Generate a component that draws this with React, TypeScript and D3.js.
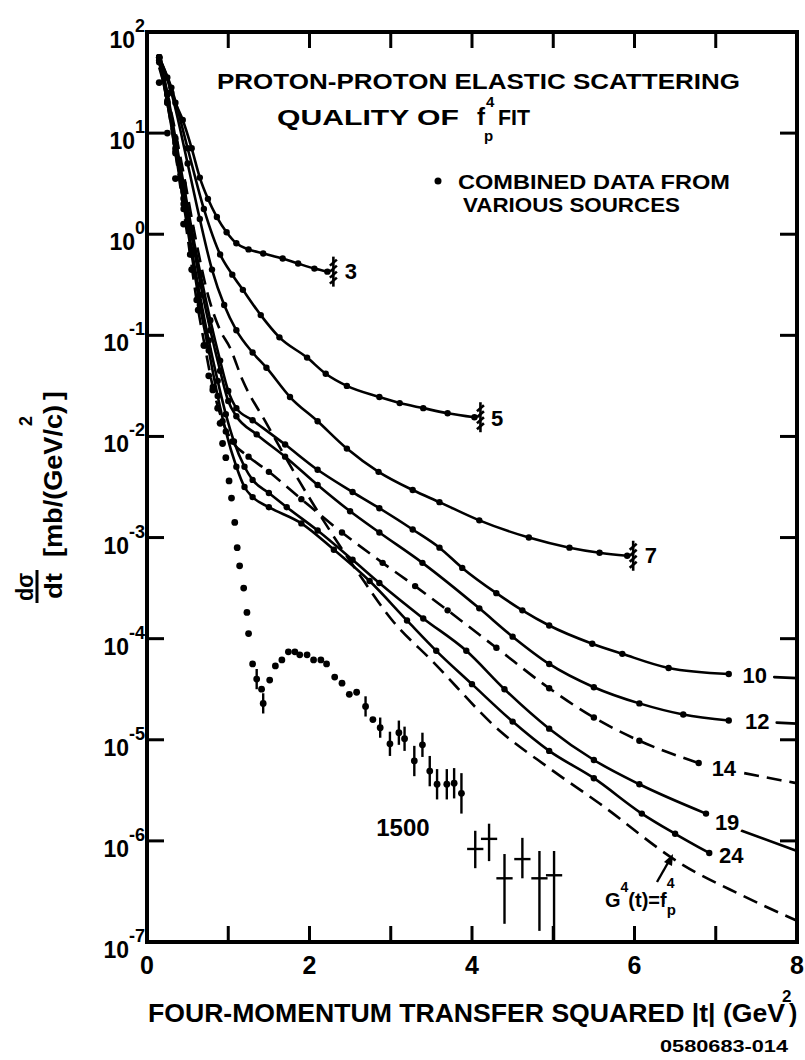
import React from 'react';
import * as d3 from 'd3';

const W = 805, H = 1060;

// ---- axes ----
const X_DOMAIN = [0, 8];
const Y_DOMAIN = [1e-7, 1e2];
const xTickLabels = [0, 2, 4, 6, 8];
const xInnerTicks = [1, 2, 3, 4, 5, 6, 7];
const yDecades = [2, 1, 0, -1, -2, -3, -4, -5, -6, -7];

// ---- curves: |t| (GeV^2) and log10(dσ/dt) ----
const c3_t = [0.15, 0.25, 0.35, 0.44, 0.55, 0.65, 0.75, 0.86, 0.98, 1.1, 1.25, 1.43, 1.67, 1.86, 2.06, 2.22];
const c3_lg = [1.75, 1.55, 1.3, 1.13, 0.85, 0.56, 0.35, 0.17, 0.02, -0.09, -0.15, -0.19, -0.24, -0.29, -0.34, -0.37];

const c5_t = [0.15, 0.3, 0.5, 0.7, 0.9, 1.05, 1.18, 1.4, 1.63, 1.97, 2.2, 2.46, 2.86, 3.11, 3.4, 3.7, 4.03];
const c5_lg = [1.75, 1.45, 0.85, 0.25, -0.2, -0.4, -0.55, -0.8, -1.02, -1.22, -1.38, -1.5, -1.61, -1.67, -1.72, -1.77, -1.81];

const c7_t = [0.15, 0.3, 0.5, 0.65, 0.8, 0.95, 1.1, 1.3, 1.47, 1.76, 2.1, 2.46, 2.85, 3.27, 3.6, 4.09, 4.7, 5.2, 5.57, 5.91];
const c7_lg = [1.75, 1.4, 0.7, 0.15, -0.35, -0.7, -0.95, -1.17, -1.32, -1.61, -1.85, -2.12, -2.35, -2.53, -2.65, -2.83, -3.0, -3.1, -3.15, -3.18];

const c10_t = [0.15, 0.25, 0.35, 0.45, 0.55, 0.66, 0.78, 0.9, 1.0, 1.1, 1.3, 1.7, 2.1, 2.53, 2.86, 3.27, 3.6, 3.88, 4.3, 4.62, 4.95, 5.48, 5.85, 6.42, 7.16];
const c10_lg = [1.75, 1.4, 0.95, 0.5, 0.05, -0.4, -0.85, -1.25, -1.55, -1.72, -1.84, -2.08, -2.33, -2.55, -2.71, -2.92, -3.1, -3.3, -3.55, -3.72, -3.87, -4.05, -4.15, -4.29, -4.35];
const c10_tailT = [7.72, 8];
const c10_tailLg = [-4.38, -4.39];

const c12_t = [0.15, 0.25, 0.35, 0.45, 0.55, 0.66, 0.78, 0.9, 1.0, 1.1, 1.35, 1.7, 2.1, 2.5, 2.86, 3.39, 4.09, 4.5, 4.95, 5.5, 6.06, 6.6, 7.16];
const c12_lg = [1.75, 1.38, 0.9, 0.42, -0.02, -0.5, -0.95, -1.35, -1.65, -1.8, -1.98, -2.2, -2.48, -2.74, -2.95, -3.25, -3.7, -3.98, -4.25, -4.48, -4.64, -4.75, -4.81];
const c12_tailT = [7.75, 8];
const c12_tailLg = [-4.83, -4.84];

const c14_t = [0.15, 0.25, 0.35, 0.45, 0.53, 0.61, 0.71, 0.81, 0.93, 1.05, 1.25, 1.5, 1.9, 2.4, 2.9, 3.3, 3.7, 4.3, 4.95, 5.5, 6.06, 6.79];
const c14_lg = [1.72, 1.3, 0.8, 0.25, -0.2, -0.65, -1.1, -1.51, -1.85, -2.05, -2.2, -2.35, -2.62, -2.95, -3.25, -3.48, -3.72, -4.09, -4.49, -4.78, -5.01, -5.23];
const c14_tailT = [7.35, 7.8, 8];
const c14_tailLg = [-5.33, -5.4, -5.43];

const c19_t = [0.15, 0.25, 0.35, 0.45, 0.55, 0.65, 0.76, 0.87, 0.97, 1.07, 1.2, 1.3, 1.5, 1.72, 2.1, 2.53, 2.86, 3.4, 3.93, 4.4, 4.95, 5.5, 6.06, 6.88];
const c19_lg = [1.72, 1.32, 0.85, 0.35, -0.15, -0.6, -1.05, -1.45, -1.78, -2.05, -2.3, -2.43, -2.56, -2.7, -2.93, -3.22, -3.45, -3.8, -4.12, -4.5, -4.89, -5.2, -5.44, -5.73];
const c19_tailT = [7.32, 8];
const c19_tailLg = [-5.9, -6.1];

const c24_t = [0.15, 0.25, 0.35, 0.45, 0.55, 0.65, 0.76, 0.87, 0.97, 1.1, 1.2, 1.3, 1.5, 1.9, 2.3, 2.74, 3.2, 3.56, 4.0, 4.5, 4.95, 5.5, 6.09, 6.5, 6.92];
const c24_lg = [1.7, 1.3, 0.82, 0.3, -0.2, -0.7, -1.15, -1.6, -1.95, -2.3, -2.5, -2.6, -2.7, -2.86, -3.12, -3.43, -3.82, -4.12, -4.45, -4.82, -5.11, -5.38, -5.73, -5.93, -6.12];

// dashed G^4(t) = f_p^4 prediction
const g4_t = [0.15, 0.3, 0.45, 0.6, 0.75, 0.9, 1.02, 1.18, 1.47, 1.88, 2.25, 2.6, 3.02, 3.51, 4.34, 4.95, 5.57, 6.58, 7.3, 8];
const g4_lg = [1.65, 1.2, 0.6, -0.05, -0.6, -0.95, -1.12, -1.45, -1.87, -2.45, -2.93, -3.35, -3.82, -4.22, -4.91, -5.28, -5.63, -6.23, -6.53, -6.79];

// ---- 1500 GeV/c (ISR) data ----
const isr_t = [0.15, 0.25, 0.35, 0.45, 0.55, 0.63, 0.7, 0.76, 0.81, 0.87, 0.9, 0.93, 0.97, 1.01, 1.04, 1.08, 1.11, 1.14, 1.19, 1.23, 1.25, 1.3, 1.35, 1.41, 1.43, 1.51, 1.58, 1.66, 1.74, 1.82, 1.88, 1.97, 2.05, 2.14, 2.21, 2.31, 2.4, 2.49, 2.58, 2.69, 2.78, 2.87, 2.99, 3.1, 3.17, 3.29, 3.39, 3.48, 3.57, 3.69, 3.78, 3.87, 4.04, 4.21, 4.4, 4.62, 4.83, 5.01];
const isr_lg = [1.5, 1.0, 0.55, 0.1, -0.35, -0.75, -1.1, -1.4, -1.54, -1.72, -1.87, -2.07, -2.21, -2.44, -2.61, -2.85, -3.1, -3.28, -3.5, -3.74, -3.95, -4.25, -4.4, -4.5, -4.64, -4.41, -4.27, -4.21, -4.13, -4.13, -4.16, -4.16, -4.21, -4.21, -4.25, -4.38, -4.44, -4.55, -4.53, -4.67, -4.8, -4.88, -5.04, -4.93, -4.99, -5.21, -5.05, -5.31, -5.44, -5.44, -5.43, -5.53, -6.08, -5.98, -6.37, -6.18, -6.37, -6.34];
const N = NaN;
const isr_lo = [N, N, N, N, N, N, N, N, N, N, N, N, N, N, N, N, N, N, N, N, N, N, -4.5, N, -4.74, N, N, N, N, N, N, N, N, N, N, N, N, N, N, -4.77, N, -4.98, -5.16, -5.05, -5.11, -5.36, -5.17, -5.46, -5.59, -5.59, -5.58, -5.73, -6.27, -6.2, -6.82, -6.37, -6.89, -7.0];
const isr_hi = [N, N, N, N, N, N, N, N, N, N, N, N, N, N, N, N, N, N, N, N, N, N, -4.3, N, -4.54, N, N, N, N, N, N, N, N, N, N, N, N, N, N, -4.57, N, -4.78, -4.92, -4.81, -4.87, -5.06, -4.93, -5.16, -5.29, -5.29, -5.28, -5.33, -5.9, -5.83, -6.13, -5.97, -6.1, -6.1];
const isr_xerr = [0, 0, 0, 0, 0, 0, 0, 0, 0, 0, 0, 0, 0, 0, 0, 0, 0, 0, 0, 0, 0, 0, 0, 0, 0, 0, 0, 0, 0, 0, 0, 0, 0, 0, 0, 0, 0, 0, 0, 0, 0, 0, 0, 0, 0, 0, 0, 0, 0, 0, 0, 0, 0.1, 0.1, 0.1, 0.1, 0.1, 0.1];

// ---- labels ----
const curveLabels = ['3', '5', '7', '10', '12', '14', '19', '24', '1500'];
const curveLabelT = [2.51, 4.31, 6.2, 7.48, 7.51, 7.1, 7.14, 7.19, 3.15];
const curveLabelLg = [-0.36, -1.82, -3.17, -4.36, -4.81, -5.28, -5.81, -6.14, -5.87];
const curveLabelSize = [22, 22, 22, 22, 22, 22, 22, 22, 24];

const toPts = (t: number[], lg: number[]) => t.map((v, i) => [v, lg[i]] as [number, number]);

export default function App() {
  const x = d3.scaleLinear().domain(X_DOMAIN).range([147, 797]);
  const y = d3.scaleLog().domain(Y_DOMAIN).range([942, 32]);
  const yl = (lg: number) => y(Math.pow(10, lg));
  const line = d3.line<[number, number]>().x(d => x(d[0])).y(d => yl(d[1])).curve(d3.curveMonotoneX);

  const series = [
    { t: c3_t, lg: c3_lg, dashed: false, dots: true, hatch: true },
    { t: c5_t, lg: c5_lg, dashed: false, dots: true, hatch: true },
    { t: c7_t, lg: c7_lg, dashed: false, dots: true, hatch: true },
    { t: c10_t, lg: c10_lg, dashed: false, dots: true, hatch: false, tailT: c10_tailT, tailLg: c10_tailLg },
    { t: c12_t, lg: c12_lg, dashed: false, dots: true, hatch: false, tailT: c12_tailT, tailLg: c12_tailLg },
    { t: c14_t, lg: c14_lg, dashed: true, dots: true, hatch: false, tailT: c14_tailT, tailLg: c14_tailLg },
    { t: c19_t, lg: c19_lg, dashed: false, dots: true, hatch: false, tailT: c19_tailT, tailLg: c19_tailLg },
    { t: c24_t, lg: c24_lg, dashed: false, dots: true, hatch: false },
    { t: g4_t, lg: g4_lg, dashed: true, dots: false, hatch: false },
  ];

  const font = "'Liberation Sans', Arial, sans-serif";
  const ink = '#000';

  return (
    <svg width={W} height={H} viewBox={`0 0 ${W} ${H}`}
      style={{ position: 'absolute', left: 0, top: 0, background: '#fff' }}
      fontFamily={font} fontWeight="bold">
      <rect x={0} y={0} width={W} height={H} fill="#fff" />

      {/* curves */}
      <g fill="none" stroke={ink} strokeWidth={2.6}>
        {series.map((s, i) => (
          <g key={i} strokeDasharray={s.dashed ? '15 8' : undefined} strokeLinecap={s.dashed ? 'butt' : 'round'}>
            <path d={line(toPts(s.t, s.lg)) || ''} />
            {s.tailT && <path d={line(toPts(s.tailT, s.tailLg)) || ''} />}
          </g>
        ))}
      </g>
      <g fill={ink}>
        {series.filter(s => s.dots).map((s, i) =>
          s.t.map((tv, j) => <circle key={`${i}-${j}`} cx={x(tv)} cy={yl(s.lg[j])} r={3.2} />)
        )}
      </g>
      {/* hatch break marks at curve ends */}
      <g stroke={ink} strokeWidth={2.6} fill="none">
        {series.filter(s => s.hatch).map((s, i) => {
          const cx = x(s.t[s.t.length - 1]) + 6;
          const cy = yl(s.lg[s.lg.length - 1]);
          return (
            <g key={i}>
              <path d={`M${cx},${cy - 15} L${cx},${cy + 15}`} />
              {[-9, -3, 3, 9].map(o => <path key={o} d={`M${cx - 3.5},${cy + o + 3} L${cx + 3.5},${cy + o - 3}`} />)}
            </g>
          );
        })}
      </g>

      {/* 1500 data */}
      <g stroke={ink} strokeWidth={2.4} fill={ink}>
        {isr_t.map((tv, i) => (
          <g key={i}>
            {!isNaN(isr_lo[i]) && <line x1={x(tv)} x2={x(tv)} y1={yl(isr_lo[i])} y2={yl(isr_hi[i])} />}
            {isr_xerr[i] > 0 && <line x1={x(tv - isr_xerr[i])} x2={x(tv + isr_xerr[i])} y1={yl(isr_lg[i])} y2={yl(isr_lg[i])} />}
            {isr_xerr[i] === 0 && <circle cx={x(tv)} cy={yl(isr_lg[i])} r={3.4} stroke="none" />}
          </g>
        ))}
      </g>

      {/* curve labels */}
      <g textAnchor="middle" fill={ink} stroke="#fff" strokeWidth={9} paintOrder="stroke" strokeLinejoin="round">
        {curveLabels.map((l, i) => (
          <text key={l} x={x(curveLabelT[i])} y={yl(curveLabelLg[i]) + 8} fontSize={curveLabelSize[i]}>{l}</text>
        ))}
      </g>

      {/* G^4 label with arrow */}
      <g fill={ink}>
        <text x={605} y={907} fontSize={20} stroke="#fff" strokeWidth={6} paintOrder="stroke">
          G<tspan dy={-15} fontSize={14}>4</tspan><tspan dy={15}>(t)=f</tspan><tspan dy={8} fontSize={15}>p</tspan><tspan dx={-9} dy={-27} fontSize={14}>4</tspan>
        </text>
        <line x1={657} y1={882} x2={669} y2={861} stroke={ink} strokeWidth={2.4} />
        <path d="M673,854 L664,862 L672,866 Z" />
      </g>

      {/* frame */}
      <rect x={147} y={32} width={650} height={910} fill="none" stroke={ink} strokeWidth={4} />
      <g stroke={ink} strokeWidth={3}>
        {xInnerTicks.map(t => (
          <g key={t}>
            <line x1={x(t)} x2={x(t)} y1={942} y2={926} />
            <line x1={x(t)} x2={x(t)} y1={32} y2={48} />
          </g>
        ))}
        {yDecades.slice(1, -1).map(e => (
          <g key={e}>
            <line x1={147} x2={164} y1={yl(e)} y2={yl(e)} />
            <line x1={797} x2={780} y1={yl(e)} y2={yl(e)} />
          </g>
        ))}
      </g>

      {/* tick labels */}
      <g fill={ink}>
        {yDecades.map(e => (
          <text key={e} x={145} y={yl(e) + 16} fontSize={23} textAnchor="end">
            10<tspan dy={-16} fontSize={18}>{String(e)}</tspan>
          </text>
        ))}
        {xTickLabels.map(t => (
          <text key={t} x={x(t)} y={974} fontSize={25} textAnchor="middle">{t}</text>
        ))}
      </g>

      {/* titles */}
      <g fill={ink}>
        <text x={217} y={89} fontSize={22} textLength={523} lengthAdjust="spacingAndGlyphs">PROTON-PROTON ELASTIC SCATTERING</text>
        <text x={277} y={125} fontSize={22} textLength={182} lengthAdjust="spacingAndGlyphs">QUALITY OF</text>
        <text x={477} y={125} fontSize={24}>f</text>
        <text x={484} y={141} fontSize={15}>p</text>
        <text x={486} y={107} fontSize={15}>4</text>
        <text x={498} y={125} fontSize={22} textLength={32} lengthAdjust="spacingAndGlyphs">FIT</text>
        <circle cx={438} cy={181} r={3.5} />
        <text x={458} y={189} fontSize={20} textLength={272} lengthAdjust="spacingAndGlyphs">COMBINED DATA FROM</text>
        <text x={463} y={212} fontSize={20} textLength={217} lengthAdjust="spacingAndGlyphs">VARIOUS SOURCES</text>

        <text x={148} y={1022} fontSize={25} textLength={637} lengthAdjust="spacingAndGlyphs">FOUR-MOMENTUM TRANSFER SQUARED |t| (GeV</text>
        <text x={782} y={1002} fontSize={17}>2</text>
        <text x={789} y={1022} fontSize={25}>)</text>
        <text x={660} y={1052} fontSize={17} textLength={128} lengthAdjust="spacingAndGlyphs">0580683-014</text>

        {/* y-axis title */}
        <g transform="translate(62,603) rotate(-90)">
          <text x={2} y={-29} fontSize={24} textLength={28} lengthAdjust="spacingAndGlyphs">dσ</text>
          <text x={4} y={0} fontSize={24} textLength={26} lengthAdjust="spacingAndGlyphs">dt</text>
          <line x1={0} x2={33} y1={-25} y2={-25} stroke={ink} strokeWidth={3} />
          <text x={46} y={0} fontSize={26} textLength={152} lengthAdjust="spacingAndGlyphs">[mb/(GeV/c)</text>
          <text x={177} y={-30} fontSize={18}>2</text>
          <text x={203} y={0} fontSize={26}>]</text>
        </g>
      </g>
    </svg>
  );
}
